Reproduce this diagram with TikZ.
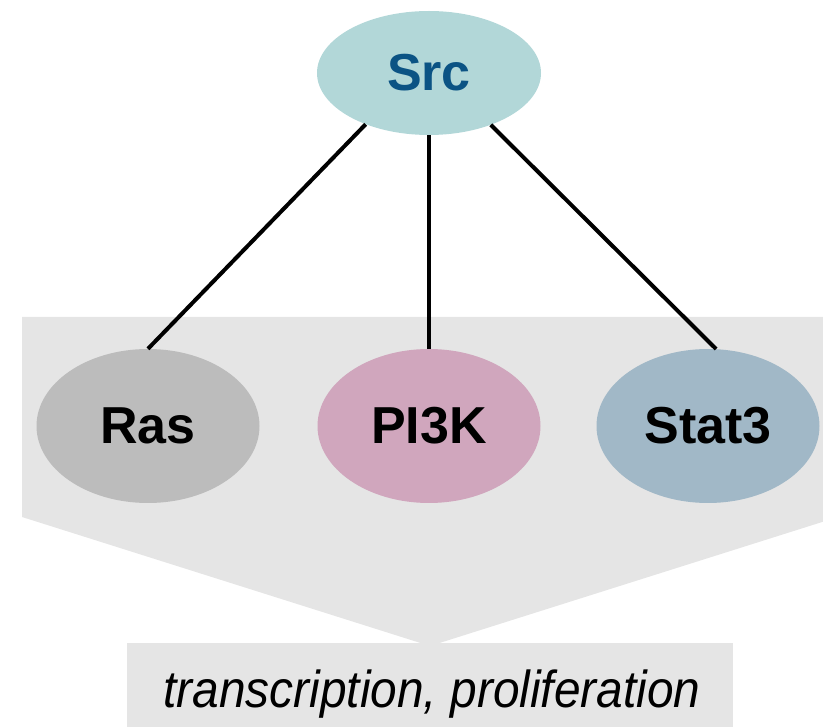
\documentclass[tikz,border=0pt]{standalone}
\usepackage{fontspec}
\setmainfont{Liberation Sans}
\newfontfamily\narrowsans[FakeStretch=0.92]{Liberation Sans}
\usetikzlibrary{shapes.geometric}
\definecolor{srcfill}{HTML}{B2D7D8}
\definecolor{srctext}{HTML}{0B5384}
\definecolor{rasfill}{HTML}{BCBCBC}
\definecolor{pifill}{HTML}{D0A6BD}
\definecolor{statfill}{HTML}{A1B8C7}
\definecolor{panel}{HTML}{E5E5E5}
\tikzset{
  protein/.style={ellipse, inner sep=0pt, minimum width=223pt, minimum height=154pt,
    font=\fontsize{52}{60}\selectfont\bfseries},
  link/.style={line width=4pt, black},
  outcome/.style={fill=panel, inner sep=0pt, minimum width=606pt, minimum height=84pt},
  outlabel/.style={inner sep=0pt, font=\narrowsans\fontsize{52}{60}\selectfont\itshape}
}
\begin{document}
\begin{tikzpicture}[x=1pt, y=-1pt]
  \useasboundingbox (0,0) rectangle (823,727);
  \begin{scope}
    \clip (0,0) rectangle (823,727);
    % shaded panel behind the effectors, pointing down to the outcome
    \fill[panel] (22,317) -- (838,317) -- (838,517) -- (430,646) -- (22,517) -- cycle;
  \end{scope}
  \node[outcome, anchor=north] (out) at (430,643) {};
  \node[outlabel, anchor=base] (outtext) at (432,707) {transcription, proliferation};

  \node[protein, fill=srcfill, text=srctext, minimum width=224pt, minimum height=124pt] (src) at (429,73) {Src};
  \node[protein, fill=rasfill] (ras) at (148,426) {Ras};
  \node[protein, fill=pifill] (pi3k) at (429,426) {PI3K};
  \node[protein, fill=statfill] (stat) at (708,426) {Stat3};

  \draw[link] (src.219.5) -- (ras.north);
  \draw[link] (src.south) -- (pi3k.north);
  \draw[link] (src.320.5) -- (stat.84);
\end{tikzpicture}
\end{document}
